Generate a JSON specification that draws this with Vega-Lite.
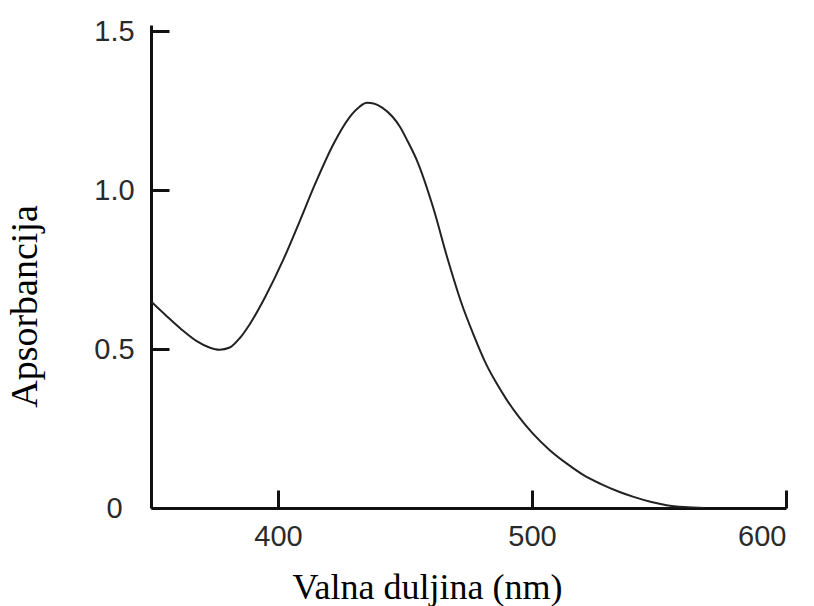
{
  "$schema": "https://vega.github.io/schema/vega-lite/v6.json",
  "autosize": {"type": "none"},
  "padding": {"left": 151, "top": 25, "right": 28, "bottom": 98},
  "width": 635,
  "height": 483,
  "background": "white",
  "config": {
    "view": {"stroke": null},
    "axis": {
      "grid": false,
      "domainColor": "#111",
      "domainWidth": 3,
      "tickColor": "#111",
      "tickWidth": 3,
      "tickSize": -18,
      "labelFont": "Liberation Sans, Arial, sans-serif",
      "labelFontSize": 29,
      "labelColor": "#2a2a2a",
      "titleFont": "Liberation Serif, Times New Roman, serif",
      "titleFontWeight": "normal",
      "titleColor": "#000"
    }
  },
  "data": {
    "values": [
      {"wl": 350, "abs": 0.650},
      {"wl": 356, "abs": 0.605},
      {"wl": 362, "abs": 0.562},
      {"wl": 368, "abs": 0.525},
      {"wl": 373, "abs": 0.505},
      {"wl": 377, "abs": 0.498},
      {"wl": 381, "abs": 0.505},
      {"wl": 385, "abs": 0.535},
      {"wl": 389, "abs": 0.580},
      {"wl": 395, "abs": 0.665},
      {"wl": 402, "abs": 0.780},
      {"wl": 408, "abs": 0.892},
      {"wl": 415, "abs": 1.027},
      {"wl": 422, "abs": 1.148},
      {"wl": 428, "abs": 1.228},
      {"wl": 432, "abs": 1.262},
      {"wl": 435, "abs": 1.275},
      {"wl": 438, "abs": 1.272},
      {"wl": 441, "abs": 1.260},
      {"wl": 445, "abs": 1.232},
      {"wl": 448, "abs": 1.200},
      {"wl": 451, "abs": 1.155},
      {"wl": 455, "abs": 1.088},
      {"wl": 461, "abs": 0.948},
      {"wl": 467, "abs": 0.778},
      {"wl": 472, "abs": 0.650},
      {"wl": 477, "abs": 0.545},
      {"wl": 482, "abs": 0.452},
      {"wl": 486, "abs": 0.393},
      {"wl": 490, "abs": 0.341},
      {"wl": 495, "abs": 0.285},
      {"wl": 500, "abs": 0.237},
      {"wl": 507, "abs": 0.182},
      {"wl": 514, "abs": 0.138},
      {"wl": 520, "abs": 0.105},
      {"wl": 527, "abs": 0.076},
      {"wl": 534, "abs": 0.052},
      {"wl": 540, "abs": 0.035},
      {"wl": 547, "abs": 0.019},
      {"wl": 553, "abs": 0.009},
      {"wl": 560, "abs": 0.003},
      {"wl": 568, "abs": 0.0}
    ]
  },
  "mark": {"type": "line", "color": "#222", "strokeWidth": 2, "interpolate": "monotone", "clip": true},
  "encoding": {
    "x": {
      "field": "wl",
      "type": "quantitative",
      "scale": {"domain": [350, 600], "nice": false, "zero": false},
      "axis": {
        "values": [400, 500, 600],
        "labelPadding": 32,
        "labelBaseline": "top",
        "title": "Valna duljina (nm)",
        "titleFontSize": 36,
        "titleX": 276,
        "titleY": 90,
        "titleAlign": "center",
        "titleBaseline": "alphabetic",
        "titleAnchor": null
      }
    },
    "y": {
      "field": "abs",
      "type": "quantitative",
      "scale": {"domain": [0, 1.52], "nice": false},
      "axis": {
        "values": [0, 0.5, 1.0, 1.5],
        "labelExpr": "datum.value == 0 ? '0' : format(datum.value, '.1f')",
        "labelAlign": "center",
        "labelBaseline": "middle",
        "labelPadding": 55,
        "title": "Apsorbancija",
        "titleFontSize": 38,
        "titleX": -115,
        "titleY": 281,
        "titleAngle": -90,
        "titleAlign": "center",
        "titleBaseline": "alphabetic",
        "titleAnchor": null
      }
    }
  }
}
